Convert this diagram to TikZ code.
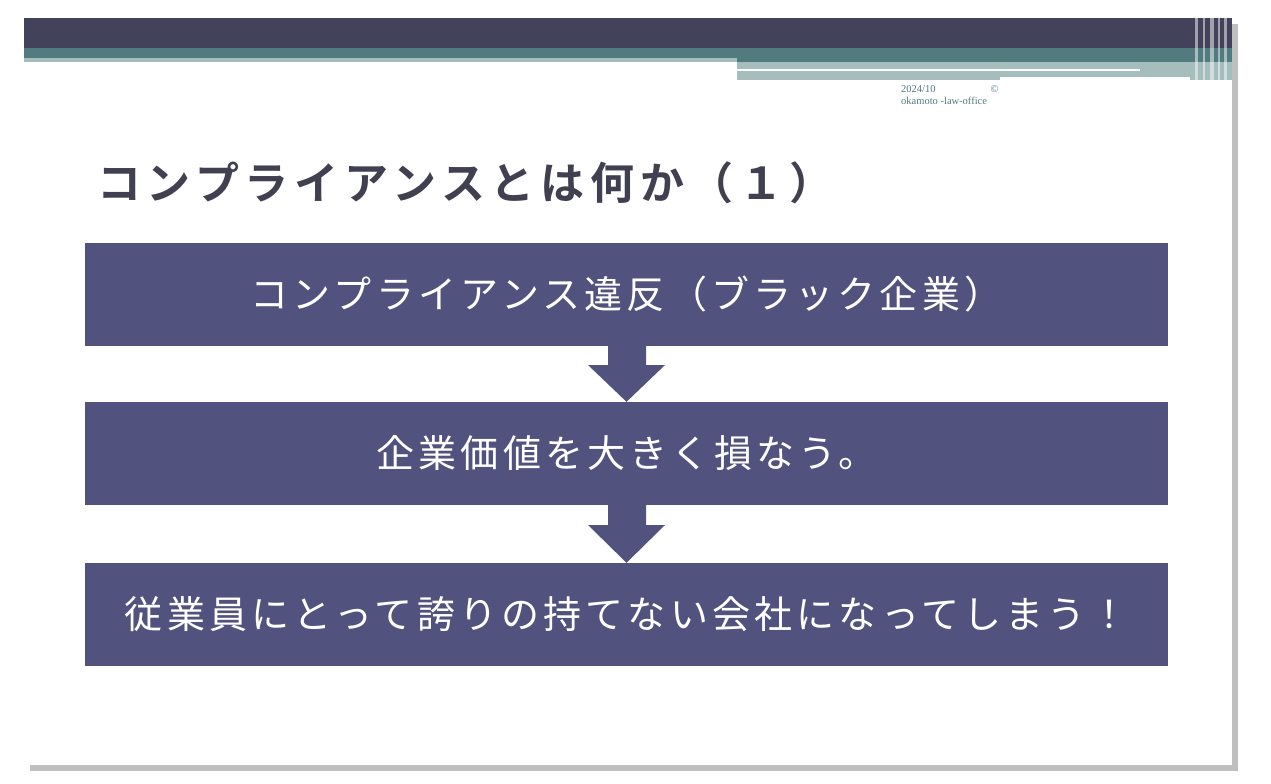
\documentclass[tikz,border=0pt]{standalone}
\usepackage{fontspec}
\newfontfamily\jp[LetterSpace=11]{Noto Sans CJK JP}
\newfontfamily\jpb[LetterSpace=13]{Noto Sans CJK JP Bold}
\setmainfont{Liberation Serif}
\definecolor{boxc}{HTML}{52527F}
\definecolor{dark}{HTML}{42435A}
\definecolor{teal}{HTML}{527B80}
\definecolor{lteal}{HTML}{A6BDBE}
\definecolor{titlec}{HTML}{404050}
\tikzset{stepbox/.style={fill=boxc,draw=none,minimum width=1083pt,minimum height=103pt,text=white,font=\jp\fontsize{38pt}{42pt}\selectfont},
downarrow/.style={fill=boxc,draw=none}}
\begin{document}
\begin{tikzpicture}[x=1pt,y=-1pt]
\useasboundingbox (0,0) rectangle (1271,784);
% shadow
\fill[black!25] (30,24) rectangle (1238,771);
\fill[white] (24,18) rectangle (1232,765);
% header
\fill[dark] (24,18) rectangle (1232,48);
\fill[teal] (24,48) rectangle (1232,62);
\fill[lteal] (24,58) rectangle (737,62);
\fill[lteal] (737,62) rectangle (1232,80);
\fill[white] (737,69) rectangle (1140,71);
\fill[white] (1000,77) rectangle (1190,80);
\foreach \x/\w in {1195/3,1203/2,1210/4,1218/2,1224/3}{\fill[white,opacity=0.5] (\x,18) rectangle (\x+\w,80);}
\node[anchor=north west,inner sep=0,text=teal,font=\fontsize{10.5pt}{12pt}\selectfont,align=left] (date) at (901,85) {2024/10\hspace{55pt}©\\okamoto -law-office};
\node[anchor=west,inner sep=0,text=titlec,font=\jpb\fontsize{44pt}{48pt}\selectfont] (title) at (97,183) {コンプライアンスとは何か（１）};
\node[stepbox] (b1) at (626.5,294) {コンプライアンス違反（ブラック企業）};
\node[stepbox] (b2) at (626.5,453.5) {企業価値を大きく損なう。};
\node[stepbox] (b3) at (626.5,614.5) {従業員にとって誇りの持てない会社になってしまう！};
\fill[downarrow] (b1.south -| 608,0) -- (608,365) -- (588,365) -- (b2.north) -- (665,365) -- (646,365) -- (b1.south -| 646,0) -- cycle;
\fill[downarrow] (b2.south -| 608,0) -- (608,525) -- (588,525) -- (b3.north) -- (665,525) -- (646,525) -- (b2.south -| 646,0) -- cycle;
\end{tikzpicture}
\end{document}
